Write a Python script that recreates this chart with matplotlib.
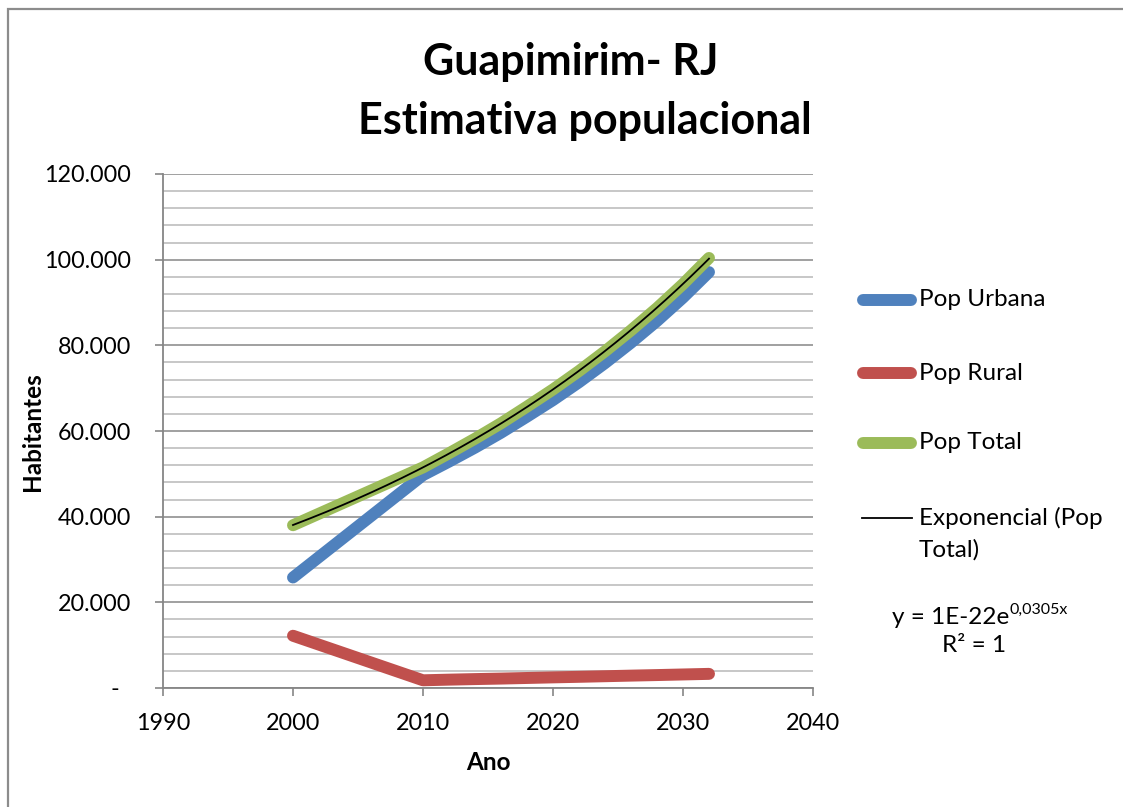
import matplotlib
matplotlib.use("Agg")
import matplotlib.pyplot as plt
import numpy as np
from matplotlib.lines import Line2D
from matplotlib.patches import Rectangle
from matplotlib.transforms import ScaledTranslation

# ---------------- data ----------------
years = [2000, 2010, 2012, 2014, 2016, 2018, 2020, 2022, 2024, 2026, 2028, 2030, 2032]
pop_total = [38000, 51500, 54800, 58200, 61800, 65700, 69700, 74000, 78600, 83500, 88700, 94300, 100400]
pop_rural = [12200, 1800, 1950, 2080, 2200, 2340, 2480, 2610, 2750, 2890, 3020, 3160, 3300]
pop_urbana = [25800, 49700, 52850, 56120, 59600, 63360, 67220, 71390, 75850, 80610, 85680, 91140, 97100]

series_names = ["Pop Urbana", "Pop Rural", "Pop Total"]
trend_name_lines = ["Exponencial (Pop", "Total)"]
title_lines = ["Guapimirim- RJ", "Estimativa populacional"]
x_ticks = [1990, 2000, 2010, 2020, 2030, 2040]
y_ticks = [0, 20000, 40000, 60000, 80000, 100000, 120000]
y_tick_labels = ["-", "20.000", "40.000", "60.000", "80.000", "100.000", "120.000"]
eq_main = "y = 1E-22e"
eq_sup = "0,0305x"
r2_text = "R² = 1"

# ---------------- style ----------------
W, H = 1123, 807
FONT = "Lato"
plt.rcParams["font.family"] = [FONT, "DejaVu Sans"]
C_BLUE, C_RED, C_GREEN = "#4F81BD", "#C0504D", "#9BBB59"
GRID_MAJ, GRID_MIN = "#868686", "#b8b8b8"
FS = 16.8
FS_LEG = 17.5
FS_AX = 17.5
LW = 8.6


def fx(px):
    return px / W


def fy(py):
    return 1 - py / H


fig = plt.figure(figsize=(W / 100, H / 100), dpi=100)
fig.patch.set_facecolor("white")

# chart border (top & left visible)
fig.add_artist(Rectangle((fx(8), -0.2), 1.3, fy(9) + 0.2, transform=fig.transFigure,
                         fill=False, edgecolor="#8c8c8c", lw=1.6))

ax = fig.add_axes([fx(163), fy(688), fx(813) - fx(163), fy(174) - fy(688)])
ax.set_xlim(1990, 2040)
ax.set_ylim(0, 120000)

ax.set_yticks(y_ticks)
ax.set_yticklabels(y_tick_labels)
ax.set_yticks(np.arange(0, 120001, 4000), minor=True)
ax.set_xticks(x_ticks)
ax.set_xticklabels([str(t) for t in x_ticks])

ax.grid(True, which="major", axis="y", color=GRID_MAJ, lw=1.1, zorder=0)
ax.grid(True, which="minor", axis="y", color=GRID_MIN, lw=1.1, zorder=0)
ax.set_axisbelow(True)

for s in ["top", "right"]:
    ax.spines[s].set_visible(False)
for s in ["left", "bottom"]:
    ax.spines[s].set_color(GRID_MAJ)
    ax.spines[s].set_linewidth(1.3)

ax.tick_params(axis="y", which="major", length=6, width=1.2, color=GRID_MAJ,
               direction="out", pad=17, labelsize=FS)
ax.tick_params(axis="y", which="minor", length=0)
ax.tick_params(axis="x", which="major", length=6, width=1.2, color=GRID_MAJ,
               direction="out", pad=12, labelsize=FS)

# shift "-" label left like Excel accounting format
lbl0 = ax.get_yticklabels()[0]
lbl0.set_transform(lbl0.get_transform() + ScaledTranslation(-12 / 100, 0, fig.dpi_scale_trans))

# data lines
kw = dict(lw=LW, solid_capstyle="round", solid_joinstyle="round")
ax.plot(years, pop_urbana, color=C_BLUE, zorder=3, **kw)
ax.plot(years, pop_rural, color=C_RED, zorder=3, **kw)
ax.plot(years, pop_total, color=C_GREEN, zorder=4, **kw)

# exponential trendline fitted to Pop Total
coef = np.polyfit(np.array(years, float), np.log(pop_total), 1)
xt = np.linspace(years[0], years[-1], 200)
ax.plot(xt, np.exp(np.polyval(coef, xt)), color="black", lw=1.3, zorder=5)

# axis titles
fig.text(fx(32), fy(432), "Habitantes", rotation=90, ha="center", va="center",
         fontsize=FS_AX, fontweight="bold")
fig.text(fx(488), fy(763), "Ano", ha="center", va="center", fontsize=FS_AX, fontweight="bold")

# title
fig.text(fx(571), fy(62), title_lines[0], ha="center", va="center", fontsize=31, fontweight="bold")
fig.text(fx(585), fy(121), title_lines[1], ha="center", va="center", fontsize=31, fontweight="bold")

# legend (manual)
rows = [(300, C_BLUE), (373, C_RED), (443, C_GREEN)]
for (py, col), name in zip(rows, series_names):
    fig.add_artist(Line2D([fx(863), fx(911)], [fy(py), fy(py)], color=col, lw=LW,
                          solid_capstyle="round", transform=fig.transFigure))
    fig.text(fx(919), fy(py), name, ha="left", va="center", fontsize=FS_LEG)
fig.add_artist(Line2D([fx(862), fx(912)], [fy(518), fy(518)], color="black", lw=1.3,
                      transform=fig.transFigure))
fig.text(fx(919), fy(518), trend_name_lines[0], ha="left", va="center", fontsize=FS_LEG)
fig.text(fx(919), fy(550), trend_name_lines[1], ha="left", va="center", fontsize=FS_LEG)

# equation
t_eq = fig.text(fx(892), fy(618), eq_main, ha="left", va="center", fontsize=FS_LEG)
fig.canvas.draw()
bb = t_eq.get_window_extent()
fig.text(bb.x1 / W, fy(610), eq_sup, ha="left", va="center", fontsize=11.5)
fig.text(fx(974), fy(646), r2_text, ha="center", va="center", fontsize=FS_LEG)

fig.savefig("out.png", dpi=100, facecolor="white")
